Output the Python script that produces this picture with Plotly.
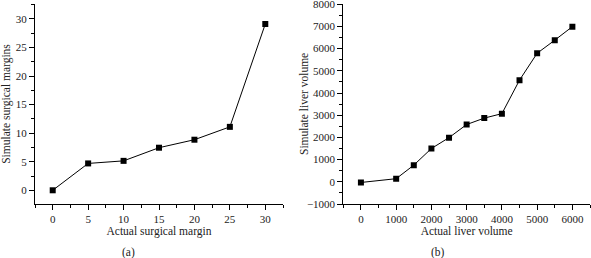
import plotly.graph_objects as go

# Panel (a)
actual_margin = [0, 5, 10, 15, 20, 25, 30]
simulate_margin = [0, 4.7, 5.15, 7.45, 8.85, 11.1, 29.1]

# Panel (b)
actual_volume = [0, 1000, 1500, 2000, 2500, 3000, 3500, 4000, 4500, 5000, 5500, 6000]
simulate_volume = [-30, 140, 750, 1500, 1990, 2580, 2870, 3070, 4580, 5790, 6380, 6990]

W, H = 591, 258
FONT = "Liberation Serif"
TXT = "#222"

fig = go.Figure()
line_style = dict(color="black", width=1)
marker_style = dict(symbol="square", size=6, color="black")

fig.add_trace(go.Scatter(x=actual_margin, y=simulate_margin, mode="lines+markers",
                         line=line_style, marker=marker_style, xaxis="x", yaxis="y",
                         showlegend=False))
fig.add_trace(go.Scatter(x=actual_volume, y=simulate_volume, mode="lines+markers",
                         line=line_style, marker=marker_style, xaxis="x2", yaxis="y2",
                         showlegend=False))

def px_x(p):
    return p / W

def px_y(p):
    return (H - p) / H

ydom = [px_y(204), px_y(4)]

common = dict(showline=True, linecolor="black", linewidth=1, ticks="outside",
              ticklen=5, tickcolor="black", showgrid=False, zeroline=False,
              automargin=False, ticklabeloverflow="allow",
              tickfont=dict(family=FONT, size=11, color=TXT))
tfont = dict(family=FONT, size=11.5, color=TXT)

fig.update_layout(
    width=W, height=H,
    margin=dict(l=0, r=0, t=0, b=0),
    plot_bgcolor="white", paper_bgcolor="white",
    font=dict(family=FONT, color=TXT),
    xaxis=dict(domain=[px_x(35), px_x(283)], range=[-2.5, 32.5], dtick=5,
               anchor="y",
               minor=dict(ticks="outside", ticklen=3, dtick=2.5, tickcolor="black"),
               title=dict(text="Actual surgical margin", font=tfont, standoff=2),
               **common),
    yaxis=dict(domain=ydom, range=[-2.4, 32.6], dtick=5, anchor="x",
               minor=dict(ticks="outside", ticklen=3, dtick=2.5, tickcolor="black"),
               title=dict(text="Simulate surgical margins", font=tfont, standoff=6),
               **common),
    xaxis2=dict(domain=[px_x(343.3), px_x(590)], range=[-500, 6500], dtick=1000,
                anchor="y2",
                minor=dict(ticks="outside", ticklen=3, dtick=500, tickcolor="black"),
                title=dict(text="Actual liver volume", font=tfont, standoff=2),
                **common),
    yaxis2=dict(domain=ydom, range=[-1000, 8010], dtick=1000, anchor="x2",
                minor=dict(ticks="outside", ticklen=3, dtick=500, tickcolor="black"),
                **common),
    annotations=[
        dict(text="Simulate liver volume", x=px_x(304), y=px_y(104), xref="paper",
             yref="paper", textangle=-90, xanchor="center", yanchor="middle",
             showarrow=False, font=tfont),
        dict(text="(a)", x=px_x(128.7), y=px_y(252), xref="paper", yref="paper",
             xanchor="center", yanchor="middle", showarrow=False, font=tfont),
        dict(text="(b)", x=px_x(438), y=px_y(252), xref="paper", yref="paper",
             xanchor="center", yanchor="middle", showarrow=False, font=tfont),
    ],
)

fig.write_html("out.html", config={"displayModeBar": False},
               post_script="document.body.style.margin='0';document.body.style.overflow='hidden';")
